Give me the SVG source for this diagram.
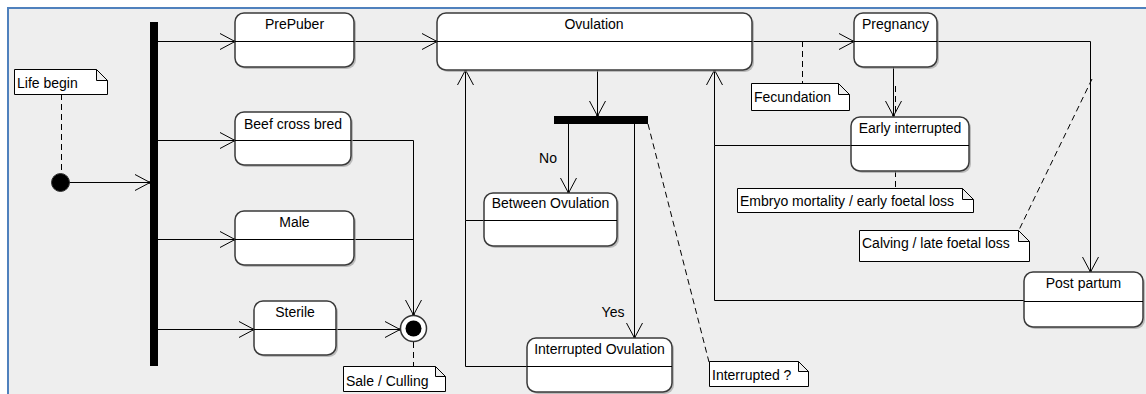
<svg xmlns="http://www.w3.org/2000/svg" width="1146" height="394" viewBox="0 0 1146 394">
<style>
text{font-family:"Liberation Sans",Arial,sans-serif;font-size:14px;fill:#000}
.box{fill:#fff;stroke:#3a3a3a;stroke-width:1.5}
.sh{fill:#9a9a9a;stroke:none;opacity:.6}
.div{stroke:#000;stroke-width:1;fill:none}
.note{fill:#fff;stroke:#000;stroke-width:1}
.ln{stroke:#000;stroke-width:1;fill:none}
.dash{stroke:#000;stroke-width:1;fill:none;stroke-dasharray:6,4}
.c{text-anchor:middle}
</style>
<defs>
<marker id="arr" markerUnits="userSpaceOnUse" markerWidth="18" markerHeight="18" viewBox="0 0 18 18" refX="16" refY="9" orient="auto">
<path d="M1,1 L16,9 L1,17" fill="none" stroke="#000" stroke-width="1"/>
<circle cx="15.5" cy="9" r="1.3" fill="#000"/>
</marker>
</defs>
<rect x="0" y="0" width="1146" height="394" fill="#fff"/>
<rect x="8" y="8" width="1138" height="386" fill="#eeeeee"/>
<path d="M8,394 V8 H1146" fill="none" stroke="#4f81bd" stroke-width="2"/>

<g id="connectors">
<path class="ln" d="M69,182.5 H150" marker-end="url(#arr)"/>
<path class="ln" d="M158,41.5 H235" marker-end="url(#arr)"/>
<path class="ln" d="M158,140.5 H235" marker-end="url(#arr)"/>
<path class="ln" d="M158,239.5 H235" marker-end="url(#arr)"/>
<path class="ln" d="M158,329.5 H254" marker-end="url(#arr)"/>
<path class="ln" d="M354,41.5 H437" marker-end="url(#arr)"/>
<path class="ln" d="M351,140.5 H413.5 V315" marker-end="url(#arr)"/>
<path class="ln" d="M354,239.5 H413.5"/>
<path class="ln" d="M336,329.5 H400" marker-end="url(#arr)"/>
<path class="ln" d="M597.5,70 V116" marker-end="url(#arr)"/>
<path class="ln" d="M568.5,124 V193" marker-end="url(#arr)"/>
<path class="ln" d="M634.5,124 V338" marker-end="url(#arr)"/>
<path class="ln" d="M484,220.5 H465.5 V70" marker-end="url(#arr)"/>
<path class="ln" d="M527,366.5 H465.5 V220.5"/>
<path class="ln" d="M752,41.5 H854" marker-end="url(#arr)"/>
<path class="ln" d="M893.5,67 V116" marker-end="url(#arr)"/>
<path class="ln" d="M851,145.5 H714.5 V70" marker-end="url(#arr)"/>
<path class="ln" d="M1024,300.5 H714.5 V145.5"/>
<path class="ln" d="M937,41.5 H1090.5 V272" marker-end="url(#arr)"/>
<text x="548" y="163" class="c">No</text>
<text x="613" y="317" class="c">Yes</text>
<path class="dash" d="M61.5,94 V173"/>
<path class="dash" d="M413.5,342 V367"/>
<path class="dash" d="M648,124 L709,362"/>
<path class="dash" d="M802.5,41 V84"/>
<path class="dash" d="M895.5,171 V188"/>
<path class="dash" d="M895.5,86 V112"/>
<path class="dash" d="M1092,79 L1019,230"/>
</g>

<g id="initial"><circle cx="60.5" cy="182.5" r="9" fill="#000" stroke="#333" stroke-width="1"/></g>
<g id="fork1"><rect x="150" y="22" width="8" height="344" fill="#000"/></g>
<g id="fork2"><rect x="554" y="116" width="94" height="8" fill="#000"/></g>
<g id="final">
<circle cx="413.5" cy="328.5" r="13" fill="#fff" stroke="#333" stroke-width="1.5"/>
<circle cx="413.5" cy="328.5" r="8" fill="#000"/>
</g>

<g id="prepuber">
<rect class="sh" x="237" y="15" width="119" height="54" rx="9"/>
<rect class="box" x="235" y="13" width="119" height="54" rx="9"/>
<path class="div" d="M235,41.5 H354"/>
<text x="294.5" y="29" class="c">PrePuber</text>
</g>
<g id="beef">
<rect class="sh" x="237" y="114" width="116" height="53" rx="9"/>
<rect class="box" x="235" y="112" width="116" height="53" rx="9"/>
<path class="div" d="M235,140.5 H351"/>
<text x="293" y="129" class="c">Beef cross bred</text>
</g>
<g id="male">
<rect class="sh" x="237" y="213" width="119" height="54" rx="9"/>
<rect class="box" x="235" y="211" width="119" height="54" rx="9"/>
<path class="div" d="M235,239.5 H354"/>
<text x="294.5" y="227" class="c">Male</text>
</g>
<g id="sterile">
<rect class="sh" x="256" y="303" width="82" height="54" rx="9"/>
<rect class="box" x="254" y="301" width="82" height="54" rx="9"/>
<path class="div" d="M254,329.5 H336"/>
<text x="295" y="317" class="c">Sterile</text>
</g>
<g id="ovulation">
<rect class="sh" x="439" y="15" width="315" height="57" rx="9"/>
<rect class="box" x="437" y="13" width="315" height="57" rx="9"/>
<path class="div" d="M437,41.5 H752"/>
<text x="594" y="29" class="c">Ovulation</text>
</g>
<g id="between">
<rect class="sh" x="486" y="195" width="133" height="53" rx="9"/>
<rect class="box" x="484" y="193" width="133" height="53" rx="9"/>
<path class="div" d="M484,220.5 H617"/>
<text x="550.5" y="208" class="c">Between Ovulation</text>
</g>
<g id="interrupted">
<rect class="sh" x="529" y="340" width="145" height="54" rx="9"/>
<rect class="box" x="527" y="338" width="145" height="54" rx="9"/>
<path class="div" d="M527,366.5 H672"/>
<text x="599.5" y="354" class="c">Interrupted Ovulation</text>
</g>
<g id="pregnancy">
<rect class="sh" x="856" y="15" width="83" height="54" rx="9"/>
<rect class="box" x="854" y="13" width="83" height="54" rx="9"/>
<path class="div" d="M854,41.5 H937"/>
<text x="895.5" y="29" class="c">Pregnancy</text>
</g>
<g id="early">
<rect class="sh" x="853" y="119" width="118" height="54" rx="9"/>
<rect class="box" x="851" y="117" width="118" height="54" rx="9"/>
<path class="div" d="M851,145.5 H969"/>
<text x="910" y="133" class="c">Early interrupted</text>
</g>
<g id="postpartum">
<rect class="sh" x="1026" y="274" width="119" height="55" rx="9"/>
<rect class="box" x="1024" y="272" width="119" height="55" rx="9"/>
<path class="div" d="M1024,301.5 H1143"/>
<text x="1083.5" y="288" class="c">Post partum</text>
</g>

<g id="note-life">
<path class="note" d="M14.5,69.5 H96.5 L107.5,80.5 V94.5 H14.5 Z M96.5,69.5 V80.5 H107.5"/>
<text x="17" y="88">Life begin</text>
</g>
<g id="note-sale">
<path class="note" d="M343.5,366.5 H435.5 L445.5,376.5 V391.5 H343.5 Z M435.5,366.5 V376.5 H445.5"/>
<text x="346" y="386">Sale / Culling</text>
</g>
<g id="note-interrupted">
<path class="note" d="M709.5,361.5 H798.5 L808.5,371.5 V386.5 H709.5 Z M798.5,361.5 V371.5 H808.5"/>
<text x="712" y="380">Interrupted ?</text>
</g>
<g id="note-fecundation">
<path class="note" d="M751.5,83.5 H838.5 L849.5,94.5 V110.5 H751.5 Z M838.5,83.5 V94.5 H849.5"/>
<text x="754" y="102">Fecundation</text>
</g>
<g id="note-embryo">
<path class="note" d="M737.5,188.5 H962.5 L973.5,199.5 V212.5 H737.5 Z M962.5,188.5 V199.5 H973.5"/>
<text x="740" y="206">Embryo mortality / early foetal loss</text>
</g>
<g id="note-calving">
<path class="note" d="M859.5,230.5 H1018.5 L1029.5,241.5 V261.5 H859.5 Z M1018.5,230.5 V241.5 H1029.5"/>
<text x="862" y="248">Calving / late foetal loss</text>
</g>
</svg>
